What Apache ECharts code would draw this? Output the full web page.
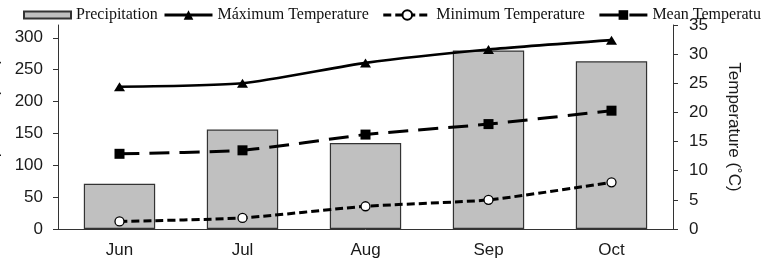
<!DOCTYPE html>
<html>
<head>
<meta charset="utf-8">
<script src="https://cdn.jsdelivr.net/npm/echarts@6/dist/echarts.min.js"></script>
<style>html,body{margin:0;padding:0;background:#fff;}#c{width:761px;height:266px;}</style>
</head>
<body>
<div id="c"></div>
<script>
var categories = ['Jun', 'Jul', 'Aug', 'Sep', 'Oct'];
var precipitation = [71, 156, 135, 280, 263];
var maxTemp = [24.4, 25.0, 28.5, 30.8, 32.4];
var minTemp = [1.3, 1.9, 3.9, 5.0, 8.0];
var meanTemp = [12.9, 13.5, 16.2, 18.0, 20.3];
var leftTicks = [0, 50, 100, 150, 200, 250, 300];

var sans = 'Liberation Sans, Arial, sans-serif';
var serif = 'Liberation Serif, Times New Roman, serif';
var axisColor = '#333';
var legendText = {fontFamily: serif, fontSize: 16, color: '#111'};

var chart = echarts.init(document.getElementById('c'), null, {renderer: 'canvas'});
chart.setOption({
  animation: false,
  backgroundColor: '#fff',
  legend: [
    {
      left: 18,
      top: 2,
      width: 400,
      itemWidth: 47,
      itemHeight: 7,
      textStyle: legendText,
      data: [{name: 'Precipitation', icon: 'rect'}]
    },
    {
      left: 158,
      top: 2,
      width: 1200,
      itemWidth: 48,
      itemHeight: 12,
      itemGap: 13,
      textStyle: legendText,
      lineStyle: {width: 3},
      data: ['Máximum Temperature', 'Minimum Temperature', 'Mean Temperature']
    }
  ],
  grid: {left: 58, right: 88, top: 25, bottom: 37, containLabel: false, outerBoundsMode: 'none'},
  xAxis: {
    type: 'category',
    data: categories,
    axisLine: {lineStyle: {color: axisColor, width: 1}},
    axisTick: {show: false},
    axisLabel: {fontFamily: sans, fontSize: 17, color: '#1a1a1a', margin: 13}
  },
  yAxis: [
    {
      type: 'value',
      min: 0, max: 320, interval: 50,
      name: 'Precipitation (mm)',
      nameLocation: 'middle',
      nameRotate: 90,
      nameGap: 56,
      nameTextStyle: {fontFamily: sans, fontSize: 17, color: '#1a1a1a'},
      axisLine: {show: true, lineStyle: {color: axisColor, width: 1}},
      axisTick: {show: true, length: 5, customValues: leftTicks, lineStyle: {color: axisColor}},
      axisLabel: {fontFamily: sans, fontSize: 17, color: '#1a1a1a', margin: 15, customValues: leftTicks},
      splitLine: {show: false}
    },
    {
      type: 'value',
      min: 0, max: 35, interval: 5,
      position: 'right',
      name: 'Temperature (˚C)',
      nameLocation: 'middle',
      nameRotate: -90,
      nameGap: 52,
      nameTextStyle: {fontFamily: sans, fontSize: 17, color: '#1a1a1a'},
      axisLine: {show: true, lineStyle: {color: axisColor, width: 1}},
      axisTick: {show: true, length: 5, lineStyle: {color: axisColor}},
      axisLabel: {fontFamily: sans, fontSize: 17, color: '#1a1a1a', margin: 16},
      splitLine: {show: false}
    }
  ],
  series: [
    {
      name: 'Precipitation',
      type: 'bar',
      yAxisIndex: 0,
      barWidth: '58%',
      data: precipitation,
      itemStyle: {color: '#c0c0c0', borderColor: '#333', borderWidth: 1.2}
    },
    {
      name: 'Máximum Temperature',
      type: 'line',
      yAxisIndex: 1,
      data: maxTemp,
      smooth: 0.2,
      symbol: 'triangle',
      symbolSize: [11, 9],
      itemStyle: {color: '#000'},
      lineStyle: {color: '#000', width: 2.6, type: 'solid'},
      z: 5
    },
    {
      name: 'Minimum Temperature',
      type: 'line',
      yAxisIndex: 1,
      data: minTemp,
      smooth: 0.2,
      symbol: 'circle',
      symbolSize: 9,
      itemStyle: {color: '#fff', borderColor: '#000', borderWidth: 1.3},
      lineStyle: {color: '#000', width: 3, type: [8, 4]},
      z: 5
    },
    {
      name: 'Mean Temperature',
      type: 'line',
      yAxisIndex: 1,
      data: meanTemp,
      smooth: 0.2,
      symbol: 'rect',
      symbolSize: 10,
      itemStyle: {color: '#000'},
      lineStyle: {color: '#000', width: 3, type: [20, 10]},
      z: 5
    }
  ]
});
</script>
</body>
</html>
